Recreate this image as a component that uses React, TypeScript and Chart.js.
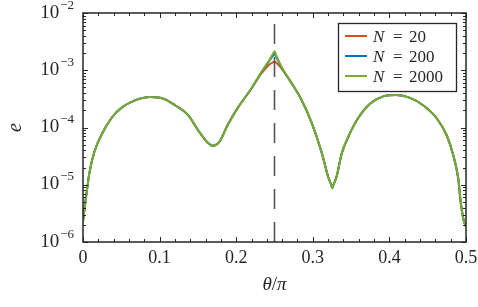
import React, { useEffect, useRef } from 'react';
import { Chart, registerables } from 'chart.js';

Chart.register(...registerables);

const thetaOverPi = [
  0, 0.002, 0.0043, 0.0087, 0.015, 0.024, 0.037, 0.05, 0.067, 0.088,
  0.106, 0.12, 0.137, 0.15, 0.163, 0.169, 0.178, 0.189, 0.202, 0.219,
  0.232, 0.243, 0.248, 0.25, 0.252, 0.259, 0.2725, 0.2855, 0.2986, 0.312,
  0.32, 0.324, 0.3255, 0.327, 0.331, 0.3377, 0.3464, 0.359, 0.3747, 0.392,
  0.4094, 0.427, 0.444, 0.4617, 0.4746, 0.4833, 0.4898, 0.493, 0.4963, 0.5,
];

const errN2000 = [
  2.3e-6, 3.8e-6, 6.6e-6, 1.7e-5, 3.8e-5, 7.4e-5, 1.45e-4, 2.2e-4, 2.95e-4, 3.4e-4,
  3.15e-4, 2.45e-4, 1.66e-4, 9.1e-5, 5.4e-5, 4.8e-5, 5.6e-5, 1.12e-4, 2.2e-4, 4.6e-4,
  8.9e-4, 1.5e-3, 1.95e-3, 2.15e-3, 1.86e-3, 1.15e-3, 5.9e-4, 3.0e-4, 1.2e-4, 3.5e-5,
  1.38e-5, 1.0e-5, 8.8e-6, 1.0e-5, 1.38e-5, 3.5e-5, 6.9e-5, 1.45e-4, 2.6e-4, 3.5e-4,
  3.7e-4, 3.3e-4, 2.45e-4, 1.45e-4, 7.4e-5, 3.3e-5, 1.3e-5, 5.1e-6, 2.6e-6, 1.86e-6,
];

const errN200 = [
  2.3e-6, 3.8e-6, 6.6e-6, 1.7e-5, 3.8e-5, 7.4e-5, 1.45e-4, 2.2e-4, 2.95e-4, 3.4e-4,
  3.15e-4, 2.45e-4, 1.66e-4, 9.1e-5, 5.4e-5, 4.8e-5, 5.6e-5, 1.12e-4, 2.2e-4, 4.6e-4,
  8.8e-4, 1.45e-3, 1.8e-3, 1.95e-3, 1.75e-3, 1.13e-3, 5.9e-4, 3.0e-4, 1.2e-4, 3.5e-5,
  1.38e-5, 1.0e-5, 8.8e-6, 1.0e-5, 1.38e-5, 3.5e-5, 6.9e-5, 1.45e-4, 2.6e-4, 3.5e-4,
  3.7e-4, 3.3e-4, 2.45e-4, 1.45e-4, 7.4e-5, 3.3e-5, 1.3e-5, 5.1e-6, 2.6e-6, 1.86e-6,
];

const errN20 = [
  2.3e-6, 3.8e-6, 6.6e-6, 1.7e-5, 3.8e-5, 7.4e-5, 1.45e-4, 2.2e-4, 2.95e-4, 3.4e-4,
  3.15e-4, 2.45e-4, 1.66e-4, 9.1e-5, 5.4e-5, 4.8e-5, 5.6e-5, 1.12e-4, 2.2e-4, 4.6e-4,
  8.5e-4, 1.25e-3, 1.38e-3, 1.42e-3, 1.36e-3, 1.08e-3, 5.9e-4, 3.0e-4, 1.2e-4, 3.5e-5,
  1.38e-5, 1.0e-5, 8.8e-6, 1.0e-5, 1.38e-5, 3.5e-5, 6.9e-5, 1.45e-4, 2.6e-4, 3.5e-4,
  3.7e-4, 3.3e-4, 2.45e-4, 1.45e-4, 7.4e-5, 3.3e-5, 1.3e-5, 5.1e-6, 2.6e-6, 1.86e-6,
];

const seriesN = ['20', '200', '2000'];
const seriesColors = ['#D95319', '#0072BD', '#77AC30'];
const xTickValues = [0, 0.1, 0.2, 0.3, 0.4, 0.5];
const xTickLabels = ['0', '0.1', '0.2', '0.3', '0.4', '0.5'];
const yTickExponents = [-6, -5, -4, -3, -2];
const markerX = 0.25;

const SERIF = '"Liberation Serif", "DejaVu Serif", serif';
const AXIS = '#262626';

const overlay = {
  id: 'overlay',
  afterDatasetsDraw(chart: any) {
    const { ctx, chartArea: a, scales } = chart;
    const xs = scales.x;
    const ys = scales.y;
    ctx.save();

    // dashed vertical marker
    const mx = xs.getPixelForValue(markerX);
    ctx.strokeStyle = '#555555';
    ctx.lineWidth = 1.6;
    ctx.setLineDash([20, 13]);
    ctx.beginPath();
    ctx.moveTo(mx, a.bottom);
    ctx.lineTo(mx, a.top);
    ctx.stroke();
    ctx.setLineDash([]);

    // ticks
    ctx.strokeStyle = AXIS;
    ctx.lineWidth = 1;
    ctx.beginPath();
    for (let i = 0; i <= 25; i++) {
      const v = i * 0.02;
      const p = Math.round(xs.getPixelForValue(v)) + 0.5;
      const len = i % 5 === 0 ? 5 : 3;
      ctx.moveTo(p, a.bottom);
      ctx.lineTo(p, a.bottom - len);
      ctx.moveTo(p, a.top);
      ctx.lineTo(p, a.top + len);
    }
    for (let k = 0; k < yTickExponents.length; k++) {
      const e = yTickExponents[k];
      const p = Math.round(ys.getPixelForValue(Math.pow(10, e))) + 0.5;
      ctx.moveTo(a.left, p);
      ctx.lineTo(a.left + 5, p);
      ctx.moveTo(a.right, p);
      ctx.lineTo(a.right - 5, p);
      if (k < yTickExponents.length - 1) {
        for (let m = 2; m <= 9; m++) {
          const q = Math.round(ys.getPixelForValue(m * Math.pow(10, e))) + 0.5;
          ctx.moveTo(a.left, q);
          ctx.lineTo(a.left + 3, q);
          ctx.moveTo(a.right, q);
          ctx.lineTo(a.right - 3, q);
        }
      }
    }
    ctx.stroke();

    // frame
    ctx.lineWidth = 1.5;
    ctx.strokeRect(a.left, a.top, a.right - a.left, a.bottom - a.top);

    // x tick labels
    ctx.fillStyle = AXIS;
    ctx.font = `18px ${SERIF}`;
    ctx.textAlign = 'center';
    ctx.textBaseline = 'alphabetic';
    xTickValues.forEach((v, i) => {
      ctx.fillText(xTickLabels[i], xs.getPixelForValue(v), a.bottom + 21);
    });

    // y tick labels 10^e
    yTickExponents.forEach((e) => {
      const p = ys.getPixelForValue(Math.pow(10, e));
      const sup = '\u2212' + String(-e);
      ctx.font = `13px ${SERIF}`;
      const sw = ctx.measureText(sup).width;
      ctx.textAlign = 'right';
      ctx.fillText(sup, 74, p - 4.5);
      ctx.font = `19px ${SERIF}`;
      ctx.fillText('10', 74 - sw - 1, p + 4.5);
    });

    // x axis title θ/π
    const parts: [string, boolean][] = [['\u03B8', true], ['/', false], ['\u03C0', true]];
    let total = 0;
    parts.forEach(([t, it]) => {
      ctx.font = `${it ? 'italic ' : ''}19px ${SERIF}`;
      total += ctx.measureText(t).width;
    });
    let cx = (a.left + a.right) / 2 - total / 2;
    ctx.textAlign = 'left';
    parts.forEach(([t, it]) => {
      ctx.font = `${it ? 'italic ' : ''}19px ${SERIF}`;
      ctx.fillText(t, cx, 290);
      cx += ctx.measureText(t).width;
    });

    // y axis title e
    ctx.save();
    ctx.translate(21, (a.top + a.bottom) / 2);
    ctx.rotate(-Math.PI / 2);
    ctx.textAlign = 'center';
    ctx.font = `italic 20px ${SERIF}`;
    ctx.fillText('e', 0, 0);
    ctx.restore();

    // legend
    ctx.fillStyle = '#ffffff';
    ctx.fillRect(338, 23, 119, 69);
    ctx.strokeStyle = AXIS;
    ctx.lineWidth = 1.3;
    ctx.strokeRect(338.5, 23.5, 118, 68);
    chart.data.datasets.forEach((ds: any, i: number) => {
      const y = 36 + i * 20;
      ctx.strokeStyle = ds.borderColor;
      ctx.lineWidth = 2;
      ctx.beginPath();
      ctx.moveTo(345, y);
      ctx.lineTo(367, y);
      ctx.stroke();
      ctx.fillStyle = AXIS;
      ctx.textAlign = 'left';
      ctx.font = `italic 17px ${SERIF}`;
      ctx.fillText('N', 373, y + 6);
      ctx.font = `17px ${SERIF}`;
      ctx.fillText('=', 393, y + 6);
      ctx.fillText(seriesN[i], 409, y + 6);
    });

    ctx.restore();
  },
};

export default function App() {
  const ref = useRef<HTMLCanvasElement>(null);
  useEffect(() => {
    const series = [errN20, errN200, errN2000];
    const chart = new Chart(ref.current as HTMLCanvasElement, {
      type: 'line',
      data: {
        datasets: series.map((vals, i) => ({
          label: 'N = ' + seriesN[i],
          data: thetaOverPi.map((x, j) => ({ x, y: vals[j] })),
          borderColor: seriesColors[i],
          backgroundColor: seriesColors[i],
          borderWidth: 2,
          pointRadius: 0,
          fill: false,
          cubicInterpolationMode: 'monotone' as const,
          order: 2 - i,
        })),
      },
      options: {
        responsive: true,
        maintainAspectRatio: false,
        animation: false,
        layout: { padding: { top: 13, right: 12, left: 0, bottom: 0 } },
        plugins: { legend: { display: false }, tooltip: { enabled: false } },
        scales: {
          x: {
            type: 'linear',
            min: 0,
            max: 0.5,
            ticks: { display: false },
            grid: { display: false },
            border: { display: false },
            afterFit: (s: any) => { s.height = 65; },
          },
          y: {
            type: 'logarithmic',
            min: 1e-6,
            max: 1e-2,
            ticks: { display: false },
            grid: { display: false },
            border: { display: false },
            afterFit: (s: any) => { s.width = 83; },
          },
        },
      },
      plugins: [overlay],
    } as any);
    return () => chart.destroy();
  }, []);
  return (
    <div style={{ position: 'fixed', left: 0, top: 0, width: 478, height: 307, background: '#ffffff' }}>
      <canvas ref={ref} />
    </div>
  );
}
